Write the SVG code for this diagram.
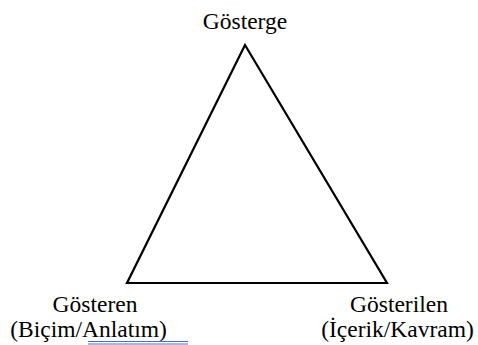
<svg xmlns="http://www.w3.org/2000/svg" width="478" height="345" viewBox="0 0 478 345">
<style>
text{font-size:23.5px;fill:#000;text-anchor:middle}
.ul{stroke:#4a6fc4;stroke-width:1;fill:none}
</style>
<rect width="478" height="345" fill="#fff"/>
<g id="connectors">
<polygon points="245,45 127,283 387,283" fill="none" stroke="#000" stroke-width="2.2" stroke-linejoin="miter"/>
</g>
<g font-family="Liberation Serif">
<g id="gosterge"><text x="245" y="29">Gösterge</text></g>
<g id="gosteren"><text x="95" y="311.5">Gösteren</text><text x="88.5" y="336.5">(Biçim/Anlatım)</text>
<path class="ul" d="M88 341.5H188M88 344H188"/></g>
<g id="gosterilen"><text x="399" y="311.5">Gösterilen</text><text x="397.5" y="336.5">(İçerik/Kavram)</text></g>
</g>
</svg>
